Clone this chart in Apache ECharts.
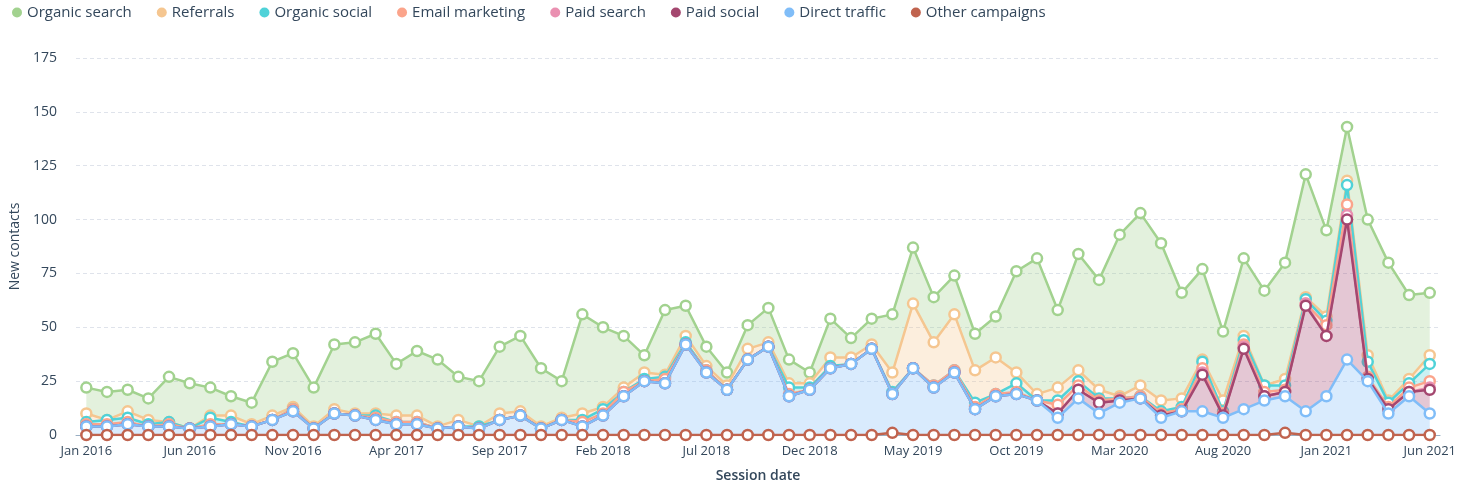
<!DOCTYPE html>
<html>
<head>
<meta charset="utf-8">
<title>New contacts by source</title>
<script src="https://cdn.jsdelivr.net/npm/echarts@6/dist/echarts.min.js"></script>
<style>
  html, body { margin: 0; padding: 0; background: #fff; }
  #main { width: 1459px; height: 491px; }
</style>
</head>
<body>
<div id="main"></div>
<script>
// month categories, Jan 2016 - Jun 2021
const months = [
  'Jan 2016', 'Feb 2016', 'Mar 2016', 'Apr 2016', 'May 2016', 'Jun 2016', 'Jul 2016', 'Aug 2016', 'Sep 2016', 'Oct 2016', 'Nov 2016', 'Dec 2016',
  'Jan 2017', 'Feb 2017', 'Mar 2017', 'Apr 2017', 'May 2017', 'Jun 2017', 'Jul 2017', 'Aug 2017', 'Sep 2017', 'Oct 2017', 'Nov 2017', 'Dec 2017',
  'Jan 2018', 'Feb 2018', 'Mar 2018', 'Apr 2018', 'May 2018', 'Jun 2018', 'Jul 2018', 'Aug 2018', 'Sep 2018', 'Oct 2018', 'Nov 2018', 'Dec 2018',
  'Jan 2019', 'Feb 2019', 'Mar 2019', 'Apr 2019', 'May 2019', 'Jun 2019', 'Jul 2019', 'Aug 2019', 'Sep 2019', 'Oct 2019', 'Nov 2019', 'Dec 2019',
  'Jan 2020', 'Feb 2020', 'Mar 2020', 'Apr 2020', 'May 2020', 'Jun 2020', 'Jul 2020', 'Aug 2020', 'Sep 2020', 'Oct 2020', 'Nov 2020', 'Dec 2020',
  'Jan 2021', 'Feb 2021', 'Mar 2021', 'Apr 2021', 'May 2021', 'Jun 2021'
]

// new contacts per source (stacked)
const organicSearch = [12, 13, 10, 10, 21, 21, 13, 9, 10, 25, 25, 18, 30, 33, 37, 24, 30, 31, 20, 21, 31, 35, 27, 17, 46, 37, 24, 8, 30, 14, 9, 6, 11, 16, 11, 5, 18, 9, 12, 27, 26, 21, 18, 17, 19, 47, 63, 36, 54, 51, 75, 80, 73, 49, 42, 32, 36, 44, 54, 57, 40, 25, 63, 64, 39, 29]
const referrals = [4, 0, 3, 2, 0, 0, 1, 3, 1, 2, 1, 1, 2, 1, 1, 3, 3, 1, 3, 0, 3, 2, 1, 1, 3, 1, 2, 3, 1, 3, 2, 2, 5, 2, 2, 2, 4, 3, 2, 9, 30, 20, 26, 15, 17, 5, 3, 6, 5, 4, 1, 5, 5, 4, 1, 5, 2, 0, 3, 1, 2, 2, 3, 1, 2, 4]
const organicSocial = [1, 2, 2, 1, 1, 0, 3, 1, 0, 0, 0, 0, 0, 0, 1, 0, 0, 0, 0, 1, 0, 0, 0, 0, 1, 2, 0, 1, 1, 1, 0, 0, 0, 0, 3, 1, 1, 0, 0, 1, 0, 0, 0, 2, 0, 4, 0, 2, 2, 1, 0, 0, 1, 1, 3, 1, 2, 3, 2, 2, 2, 9, 7, 2, 2, 8]
const emailMarketing = [1, 1, 1, 0, 1, 0, 1, 0, 0, 0, 1, 0, 0, 0, 1, 1, 1, 0, 0, 0, 0, 0, 0, 0, 2, 1, 2, 0, 2, 0, 1, 0, 0, 0, 1, 0, 0, 0, 0, 0, 0, 1, 1, 1, 1, 1, 0, 4, 2, 1, 1, 1, 1, 1, 2, 1, 1, 2, 1, 0, 5, 5, 1, 1, 2, 3]
const paidSearch = [0, 0, 0, 0, 0, 0, 0, 0, 0, 0, 0, 0, 0, 0, 0, 0, 0, 0, 0, 0, 0, 0, 0, 0, 0, 0, 0, 0, 0, 0, 0, 0, 0, 0, 0, 0, 0, 0, 0, 0, 0, 0, 0, 0, 0, 0, 0, 0, 0, 0, 0, 0, 0, 0, 1, 0, 1, 0, 0, 1, 0, 2, 0, 0, 0, 1]
const paidSocial = [0, 0, 0, 0, 0, 0, 0, 0, 0, 0, 0, 0, 0, 0, 0, 0, 0, 0, 0, 0, 0, 0, 0, 0, 0, 0, 0, 0, 0, 0, 0, 0, 0, 0, 0, 0, 0, 0, 0, 0, 0, 0, 0, 0, 0, 0, 0, 2, 4, 5, 1, 0, 1, 0, 17, 1, 28, 2, 2, 49, 28, 65, 1, 2, 2, 11]
const directTraffic = [4, 4, 5, 4, 4, 3, 4, 5, 4, 7, 11, 3, 10, 9, 7, 5, 5, 3, 4, 3, 7, 9, 3, 7, 4, 9, 18, 25, 24, 42, 29, 21, 35, 41, 18, 21, 31, 33, 40, 18, 31, 22, 29, 12, 18, 19, 16, 8, 17, 10, 15, 17, 8, 11, 11, 8, 12, 16, 17, 11, 18, 35, 25, 10, 18, 10]
const otherCampaigns = [0, 0, 0, 0, 0, 0, 0, 0, 0, 0, 0, 0, 0, 0, 0, 0, 0, 0, 0, 0, 0, 0, 0, 0, 0, 0, 0, 0, 0, 0, 0, 0, 0, 0, 0, 0, 0, 0, 0, 1, 0, 0, 0, 0, 0, 0, 0, 0, 0, 0, 0, 0, 0, 0, 0, 0, 0, 0, 1, 0, 0, 0, 0, 0, 0, 0]

const yTicks = { min: 0, max: 175, interval: 25 }

// bottom of the stack first
const sources = [
  { name: 'Other campaigns', data: otherCampaigns, color: '#c0634e' },
  { name: 'Direct traffic', data: directTraffic, color: '#80bdf8' },
  { name: 'Paid social', data: paidSocial, color: '#a4476f' },
  { name: 'Paid search', data: paidSearch, color: '#ea90b1' },
  { name: 'Email marketing', data: emailMarketing, color: '#fba48b' },
  { name: 'Organic social', data: organicSocial, color: '#4fd2d8' },
  { name: 'Referrals', data: referrals, color: '#f5c690' },
  { name: 'Organic search', data: organicSearch, color: '#a2d28f' }
]

const textColor = '#33475b'
const fontFamily = '"Open Sans", sans-serif'

const chart = echarts.init(document.getElementById('main'))

const option = {
  animation: false,
  textStyle: { fontFamily: fontFamily, color: textColor },
  legend: {
    left: 7,
    top: 0,
    icon: 'circle',
    itemWidth: 10,
    itemHeight: 10,
    itemGap: 25,
    textStyle: { fontSize: 15, color: textColor, fontFamily: fontFamily },
    data: sources.slice().reverse().map(s => ({
      name: s.name,
      itemStyle: { color: s.color, borderWidth: 0 }
    }))
  },
  grid: { left: 76, right: 18, top: 58, bottom: 56 },
  xAxis: {
    type: 'category',
    data: months,
    boundaryGap: true,
    name: 'Session date',
    nameLocation: 'middle',
    nameGap: 34,
    nameTextStyle: { fontSize: 14, fontWeight: 600, color: textColor },
    axisLine: { lineStyle: { color: '#99afc4', width: 1 } },
    axisTick: { show: false },
    axisLabel: { interval: 4, fontSize: 13, color: textColor, margin: 10 },
    splitLine: { show: false }
  },
  yAxis: {
    type: 'value',
    min: yTicks.min,
    max: yTicks.max,
    interval: yTicks.interval,
    name: 'New contacts',
    nameLocation: 'middle',
    nameGap: 53,
    nameTextStyle: { fontSize: 14, color: textColor },
    axisLine: { show: false },
    axisTick: { show: false },
    axisLabel: { fontSize: 14, color: textColor, margin: 19 },
    splitLine: { lineStyle: { color: '#dfe3eb', type: [4, 3], width: 1 } }
  },
  series: sources.map((s, i) => ({
    name: s.name,
    type: 'line',
    stack: 'total',
    data: s.data,
    z: 20 - i,
    symbol: 'circle',
    symbolSize: 10,
    showAllSymbol: true,
    lineStyle: { color: s.color, width: 2.5 },
    itemStyle: { color: '#fff', borderColor: s.color, borderWidth: 2.5 },
    areaStyle: { color: s.color, opacity: 0.3 },
    emphasis: { disabled: true }
  }))
}

chart.setOption(option)
</script>
</body>
</html>
